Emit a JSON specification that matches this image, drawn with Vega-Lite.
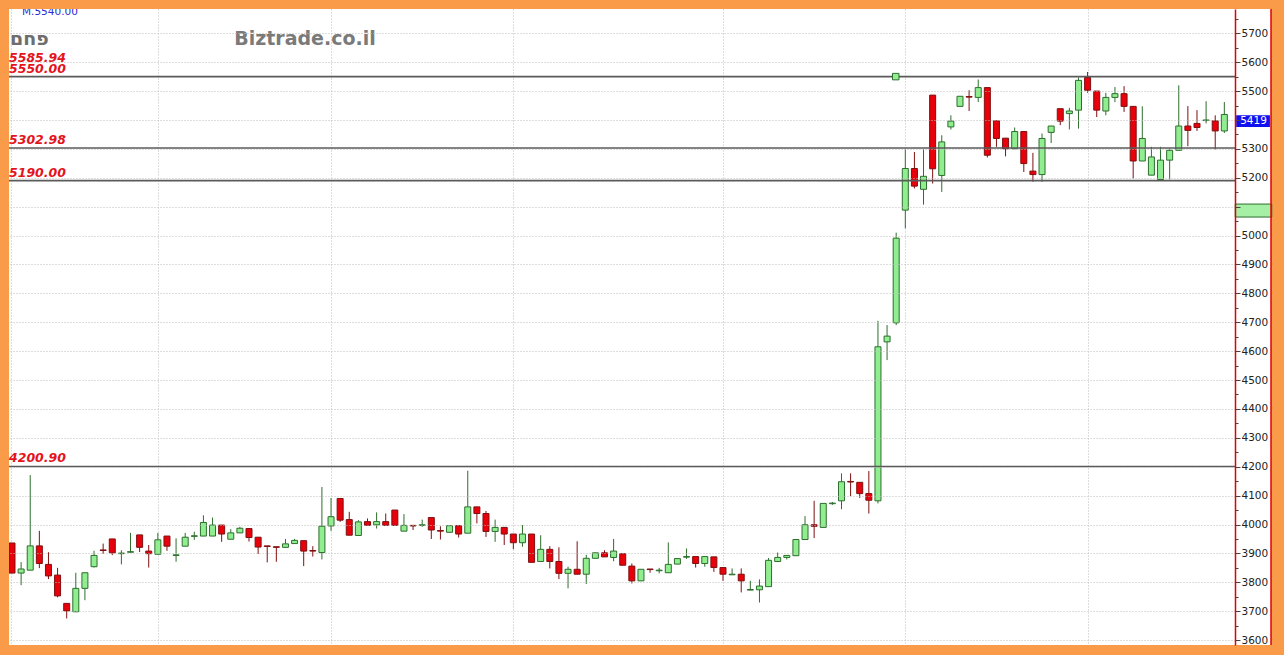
{
  "$schema": "https://vega.github.io/schema/vega-lite/v6.json",
  "width": 1226,
  "height": 636,
  "autosize": {"type": "none"},
  "padding": {"left": 9, "top": 9, "right": 49, "bottom": 10},
  "background": "#F99B48",
  "config": {"view": {"stroke": null, "fill": "white"}, "axis": {"labelOverlap": false}},
  "datasets": {
    "candles": [
      {"i":1,"o":3936,"h":3936,"l":3832,"c":3832},
      {"i":2,"o":3832,"h":3870,"l":3790,"c":3846},
      {"i":3,"o":3842,"h":4171,"l":3842,"c":3926},
      {"i":4,"o":3926,"h":3978,"l":3849,"c":3865},
      {"i":5,"o":3862,"h":3904,"l":3811,"c":3822},
      {"i":6,"o":3825,"h":3850,"l":3748,"c":3753},
      {"i":7,"o":3727,"h":3727,"l":3675,"c":3701},
      {"i":8,"o":3698,"h":3833,"l":3698,"c":3779},
      {"i":9,"o":3779,"h":3833,"l":3738,"c":3833},
      {"i":10,"o":3854,"h":3909,"l":3851,"c":3893},
      {"i":11,"o":3912,"h":3934,"l":3898,"c":3910},
      {"i":12,"o":3950,"h":3950,"l":3894,"c":3902},
      {"i":13,"o":3899,"h":3911,"l":3862,"c":3901},
      {"i":14,"o":3904,"h":3971,"l":3904,"c":3906},
      {"i":15,"o":3964,"h":3964,"l":3905,"c":3921},
      {"i":16,"o":3908,"h":3929,"l":3851,"c":3899},
      {"i":17,"o":3897,"h":3971,"l":3897,"c":3947},
      {"i":18,"o":3960,"h":3960,"l":3909,"c":3925},
      {"i":19,"o":3893,"h":3952,"l":3871,"c":3895},
      {"i":20,"o":3925,"h":3971,"l":3925,"c":3956},
      {"i":21,"o":3959,"h":3975,"l":3947,"c":3961},
      {"i":22,"o":3960,"h":4032,"l":3960,"c":4007},
      {"i":23,"o":3960,"h":4024,"l":3960,"c":3998},
      {"i":24,"o":3998,"h":3998,"l":3940,"c":3967},
      {"i":25,"o":3949,"h":3984,"l":3949,"c":3971},
      {"i":26,"o":3971,"h":3992,"l":3971,"c":3987},
      {"i":27,"o":3986,"h":3986,"l":3941,"c":3955},
      {"i":28,"o":3956,"h":3956,"l":3898,"c":3922},
      {"i":29,"o":3926,"h":3926,"l":3869,"c":3924},
      {"i":30,"o":3923,"h":3923,"l":3871,"c":3921},
      {"i":31,"o":3921,"h":3950,"l":3921,"c":3933},
      {"i":32,"o":3934,"h":3950,"l":3934,"c":3945},
      {"i":33,"o":3944,"h":3944,"l":3856,"c":3908},
      {"i":34,"o":3910,"h":3925,"l":3889,"c":3908},
      {"i":35,"o":3903,"h":4130,"l":3879,"c":3994},
      {"i":36,"o":3995,"h":4092,"l":3978,"c":4027},
      {"i":37,"o":4090,"h":4090,"l":4009,"c":4015},
      {"i":38,"o":4017,"h":4044,"l":3963,"c":3963},
      {"i":39,"o":3962,"h":4015,"l":3962,"c":4009},
      {"i":40,"o":4010,"h":4021,"l":3997,"c":3997},
      {"i":41,"o":3999,"h":4042,"l":3986,"c":4010},
      {"i":42,"o":4010,"h":4038,"l":3997,"c":3997},
      {"i":43,"o":4050,"h":4050,"l":3997,"c":3997},
      {"i":44,"o":3977,"h":4036,"l":3977,"c":3997},
      {"i":45,"o":3997,"h":3997,"l":3981,"c":3995},
      {"i":46,"o":3997,"h":4017,"l":3992,"c":3999},
      {"i":47,"o":4024,"h":4024,"l":3950,"c":3981},
      {"i":48,"o":3979,"h":3994,"l":3948,"c":3977},
      {"i":49,"o":3973,"h":3996,"l":3973,"c":3996},
      {"i":50,"o":3996,"h":3996,"l":3955,"c":3967},
      {"i":51,"o":3970,"h":4186,"l":3970,"c":4061},
      {"i":52,"o":4061,"h":4061,"l":4004,"c":4038},
      {"i":53,"o":4038,"h":4047,"l":3957,"c":3976},
      {"i":54,"o":3976,"h":4017,"l":3940,"c":3990},
      {"i":55,"o":3990,"h":3990,"l":3929,"c":3967},
      {"i":56,"o":3967,"h":3967,"l":3915,"c":3937},
      {"i":57,"o":3937,"h":3998,"l":3923,"c":3967},
      {"i":58,"o":3967,"h":3967,"l":3869,"c":3869},
      {"i":59,"o":3872,"h":3963,"l":3872,"c":3914},
      {"i":60,"o":3914,"h":3925,"l":3848,"c":3872},
      {"i":61,"o":3872,"h":3921,"l":3811,"c":3831},
      {"i":62,"o":3831,"h":3854,"l":3779,"c":3845},
      {"i":63,"o":3845,"h":3942,"l":3828,"c":3828},
      {"i":64,"o":3828,"h":3895,"l":3794,"c":3883},
      {"i":65,"o":3883,"h":3902,"l":3883,"c":3902},
      {"i":66,"o":3902,"h":3911,"l":3888,"c":3888},
      {"i":67,"o":3886,"h":3950,"l":3873,"c":3908},
      {"i":68,"o":3899,"h":3899,"l":3859,"c":3859},
      {"i":69,"o":3856,"h":3865,"l":3796,"c":3805},
      {"i":70,"o":3805,"h":3845,"l":3805,"c":3845},
      {"i":71,"o":3846,"h":3846,"l":3833,"c":3844},
      {"i":72,"o":3840,"h":3850,"l":3831,"c":3842},
      {"i":73,"o":3833,"h":3938,"l":3833,"c":3862},
      {"i":74,"o":3863,"h":3882,"l":3863,"c":3882},
      {"i":75,"o":3887,"h":3917,"l":3881,"c":3889},
      {"i":76,"o":3889,"h":3889,"l":3851,"c":3865},
      {"i":77,"o":3865,"h":3889,"l":3854,"c":3889},
      {"i":78,"o":3888,"h":3888,"l":3836,"c":3851},
      {"i":79,"o":3851,"h":3851,"l":3805,"c":3828},
      {"i":80,"o":3826,"h":3848,"l":3826,"c":3828},
      {"i":81,"o":3828,"h":3848,"l":3765,"c":3805},
      {"i":82,"o":3773,"h":3805,"l":3773,"c":3775},
      {"i":83,"o":3774,"h":3810,"l":3730,"c":3787},
      {"i":84,"o":3785,"h":3884,"l":3785,"c":3876},
      {"i":85,"o":3872,"h":3903,"l":3872,"c":3886},
      {"i":86,"o":3886,"h":3893,"l":3879,"c":3893},
      {"i":87,"o":3892,"h":3948,"l":3892,"c":3948},
      {"i":88,"o":3948,"h":4029,"l":3948,"c":3999},
      {"i":89,"o":3999,"h":4082,"l":3953,"c":3994},
      {"i":90,"o":3990,"h":4073,"l":3990,"c":4073},
      {"i":91,"o":4072,"h":4078,"l":4068,"c":4074},
      {"i":92,"o":4082,"h":4177,"l":4053,"c":4148},
      {"i":93,"o":4149,"h":4177,"l":4098,"c":4147},
      {"i":94,"o":4146,"h":4146,"l":4092,"c":4107},
      {"i":95,"o":4107,"h":4185,"l":4038,"c":4084},
      {"i":96,"o":4082,"h":4705,"l":4073,"c":4615},
      {"i":97,"o":4632,"h":4690,"l":4569,"c":4652},
      {"i":98,"o":4698,"h":5010,"l":4690,"c":4991},
      {"i":99,"o":5088,"h":5299,"l":5025,"c":5232},
      {"i":100,"o":5232,"h":5289,"l":5163,"c":5171},
      {"i":101,"o":5160,"h":5299,"l":5107,"c":5205},
      {"i":102,"o":5486,"h":5486,"l":5180,"c":5231},
      {"i":103,"o":5208,"h":5347,"l":5151,"c":5324},
      {"i":104,"o":5376,"h":5416,"l":5367,"c":5396},
      {"i":105,"o":5447,"h":5482,"l":5447,"c":5482},
      {"i":106,"o":5481,"h":5503,"l":5431,"c":5479},
      {"i":107,"o":5478,"h":5540,"l":5462,"c":5512},
      {"i":108,"o":5512,"h":5512,"l":5270,"c":5278},
      {"i":109,"o":5397,"h":5397,"l":5307,"c":5336},
      {"i":110,"o":5337,"h":5337,"l":5274,"c":5300},
      {"i":111,"o":5300,"h":5374,"l":5300,"c":5360},
      {"i":112,"o":5360,"h":5360,"l":5220,"c":5249},
      {"i":113,"o":5223,"h":5286,"l":5186,"c":5211},
      {"i":114,"o":5211,"h":5353,"l":5186,"c":5336},
      {"i":115,"o":5357,"h":5379,"l":5320,"c":5379},
      {"i":116,"o":5439,"h":5439,"l":5382,"c":5396},
      {"i":117,"o":5422,"h":5442,"l":5367,"c":5431},
      {"i":118,"o":5434,"h":5547,"l":5370,"c":5537},
      {"i":119,"o":5547,"h":5566,"l":5494,"c":5503},
      {"i":120,"o":5500,"h":5500,"l":5410,"c":5434},
      {"i":121,"o":5431,"h":5494,"l":5416,"c":5478},
      {"i":122,"o":5478,"h":5514,"l":5462,"c":5491},
      {"i":123,"o":5491,"h":5517,"l":5428,"c":5447},
      {"i":124,"o":5447,"h":5447,"l":5197,"c":5258},
      {"i":125,"o":5258,"h":5447,"l":5258,"c":5336},
      {"i":126,"o":5209,"h":5307,"l":5209,"c":5272},
      {"i":127,"o":5194,"h":5307,"l":5194,"c":5261},
      {"i":128,"o":5261,"h":5301,"l":5194,"c":5295},
      {"i":129,"o":5295,"h":5520,"l":5295,"c":5379},
      {"i":130,"o":5379,"h":5448,"l":5309,"c":5364},
      {"i":131,"o":5388,"h":5434,"l":5362,"c":5374},
      {"i":132,"o":5398,"h":5465,"l":5388,"c":5400},
      {"i":133,"o":5397,"h":5416,"l":5298,"c":5362},
      {"i":134,"o":5362,"h":5462,"l":5355,"c":5419}
    ],
    "levels": [
      {"v": 5585.94, "kind": "label"},
      {"v": 5550, "kind": "line"},
      {"v": 5302.98, "kind": "line"},
      {"v": 5190, "kind": "line"},
      {"v": 4200.9, "kind": "line"}
    ]
  },
  "layer": [
    {
      "data": {"values": [{}]},
      "mark": {"type": "rect", "fill": "white", "clip": false},
      "encoding": {
        "x": {"datum": 135.17, "type": "quantitative",
              "scale": {"domain": [0.671, 135.17], "nice": false, "zero": false, "padding": 0},
              "axis": {"values": [0.89, 17, 36, 56, 79, 99, 119], "tickCount": 100, "grid": true, "gridColor": "#BDBDBD", "gridDash": [1, 2], "labels": false, "ticks": false, "domain": false, "title": null}},
        "x2": {"datum": 139.12},
        "y": {"datum": 5784, "type": "quantitative",
              "scale": {"domain": [3583, 5784], "nice": false, "zero": false, "padding": 0},
              "axis": {"orient": "right", "tickCount": 200,
                       "values": [3600,3650,3700,3750,3800,3850,3900,3950,4000,4050,4100,4150,4200,4250,4300,4350,4400,4450,4500,4550,4600,4650,4700,4750,4800,4850,4900,4950,5000,5050,5100,5150,5200,5250,5300,5350,5400,5450,5500,5550,5600,5650,5700,5750],
                       "format": "d",
                       "labelExpr": "(datum.value % 100 != 0) || datum.value == 5400 || datum.value == 5100 ? '' : datum.label",
                       "labelOverlap": false, "grid": true, "gridColor": "#BDBDBD", "gridDash": [1, 2],
                       "gridOpacity": {"condition": {"test": "datum.value % 100 == 0", "value": 1}, "value": 0},
                       "domainColor": "#E00000", "domainWidth": 1.5, "tickColor": "#444444",
                       "tickSize": {"condition": {"test": "datum.value % 100 == 0", "value": 5}, "value": 3},
                       "labelFont": "DejaVu Sans", "labelFontSize": 10.5, "labelColor": "#222222", "labelPadding": 1,
                       "title": null, "zindex": 1}},
        "y2": {"datum": 3583}
      }
    },
    {
      "data": {"name": "candles"},
      "mark": {"type": "rule", "strokeWidth": 1, "clip": true},
      "encoding": {
        "x": {"field": "i", "type": "quantitative"},
        "y": {"field": "l", "type": "quantitative"},
        "y2": {"field": "h"},
        "color": {"condition": {"test": "datum.c >= datum.o", "value": "#2D6E2D"}, "value": "#7F1010"}
      }
    },
    {
      "data": {"name": "candles"},
      "mark": {"type": "bar", "size": 6, "strokeWidth": 1, "clip": true},
      "encoding": {
        "x": {"field": "i", "type": "quantitative"},
        "y": {"field": "o", "type": "quantitative"},
        "y2": {"field": "c"},
        "fill": {"condition": {"test": "datum.c >= datum.o", "value": "#90EE90"}, "value": "#E8000B"},
        "stroke": {"condition": {"test": "datum.c >= datum.o", "value": "#2D6E2D"}, "value": "#7F1010"}
      }
    },
    {
      "data": {"name": "levels"},
      "transform": [{"filter": "datum.kind == 'line'"}],
      "mark": {"type": "rule", "color": "#5A5A5A", "strokeWidth": 1.6},
      "encoding": {"y": {"field": "v", "type": "quantitative"}}
    },
    {
      "data": {"name": "levels"},
      "mark": {"type": "text", "align": "left", "baseline": "alphabetic", "dy": -4, "font": "DejaVu Sans", "fontSize": 12.5, "fontWeight": "bold", "fontStyle": "italic", "color": "#E3141C"},
      "encoding": {
        "x": {"datum": 0.671, "type": "quantitative"},
        "y": {"field": "v", "type": "quantitative"},
        "text": {"field": "v", "type": "quantitative", "format": ".2f"}
      }
    },
    {
      "data": {"values": [{"t": "Biztrade.co.il"}]},
      "mark": {"type": "text", "align": "center", "baseline": "alphabetic", "font": "DejaVu Sans", "fontSize": 19, "fontWeight": "bold", "color": "#7A7A7A"},
      "encoding": {
        "x": {"datum": 33.14, "type": "quantitative"},
        "y": {"datum": 5659, "type": "quantitative"},
        "text": {"field": "t"}
      }
    },
    {
      "data": {"values": [{"t": "פחם"}]},
      "mark": {"type": "text", "align": "left", "baseline": "alphabetic", "font": "DejaVu Sans", "fontSize": 19, "fontWeight": "bold", "color": "#6E6E6E"},
      "encoding": {
        "x": {"datum": 0.78, "type": "quantitative"},
        "y": {"datum": 5659, "type": "quantitative"},
        "text": {"field": "t"}
      }
    },
    {
      "data": {"values": [{"t": "M.5540.00"}]},
      "mark": {"type": "text", "align": "left", "baseline": "alphabetic", "font": "DejaVu Sans", "fontSize": 10.5, "color": "#2B2BD9", "clip": true},
      "encoding": {
        "x": {"datum": 2.1, "type": "quantitative"},
        "y": {"datum": 5763, "type": "quantitative"},
        "text": {"field": "t"}
      }
    },
    {
      "data": {"values": [{}]},
      "mark": {"type": "point", "shape": "square", "size": 42, "filled": true, "fill": "#90EE90", "stroke": "#2D6E2D", "strokeWidth": 1, "opacity": 1},
      "encoding": {
        "x": {"datum": 97.95, "type": "quantitative"},
        "y": {"datum": 5550, "type": "quantitative"}
      }
    },
    {
      "data": {"values": [{}]},
      "mark": {"type": "rect", "fill": "#A6F0A6", "stroke": "#2D6E2D", "strokeWidth": 1, "clip": false},
      "encoding": {
        "x": {"datum": 135.2, "type": "quantitative"},
        "x2": {"datum": 139.2},
        "y": {"datum": 5109, "type": "quantitative"},
        "y2": {"datum": 5064}
      }
    },
    {
      "data": {"values": [{}]},
      "mark": {"type": "rect", "fill": "#1010F0", "clip": false},
      "encoding": {
        "x": {"datum": 135.3, "type": "quantitative"},
        "x2": {"datum": 139.0},
        "y": {"datum": 5416, "type": "quantitative"},
        "y2": {"datum": 5376}
      }
    },
    {
      "data": {"values": [{"t": "5419"}]},
      "mark": {"type": "text", "align": "center", "baseline": "middle", "font": "DejaVu Sans", "fontSize": 10.5, "color": "white", "clip": false},
      "encoding": {
        "x": {"datum": 137.2, "type": "quantitative"},
        "y": {"datum": 5395, "type": "quantitative"},
        "text": {"field": "t"}
      }
    },
    {
      "data": {"values": [{}]},
      "mark": {"type": "rule", "color": "#E00000", "strokeWidth": 1.5, "clip": false},
      "encoding": {
        "x": {"datum": 139.12, "type": "quantitative"}
      }
    }
  ]
}
